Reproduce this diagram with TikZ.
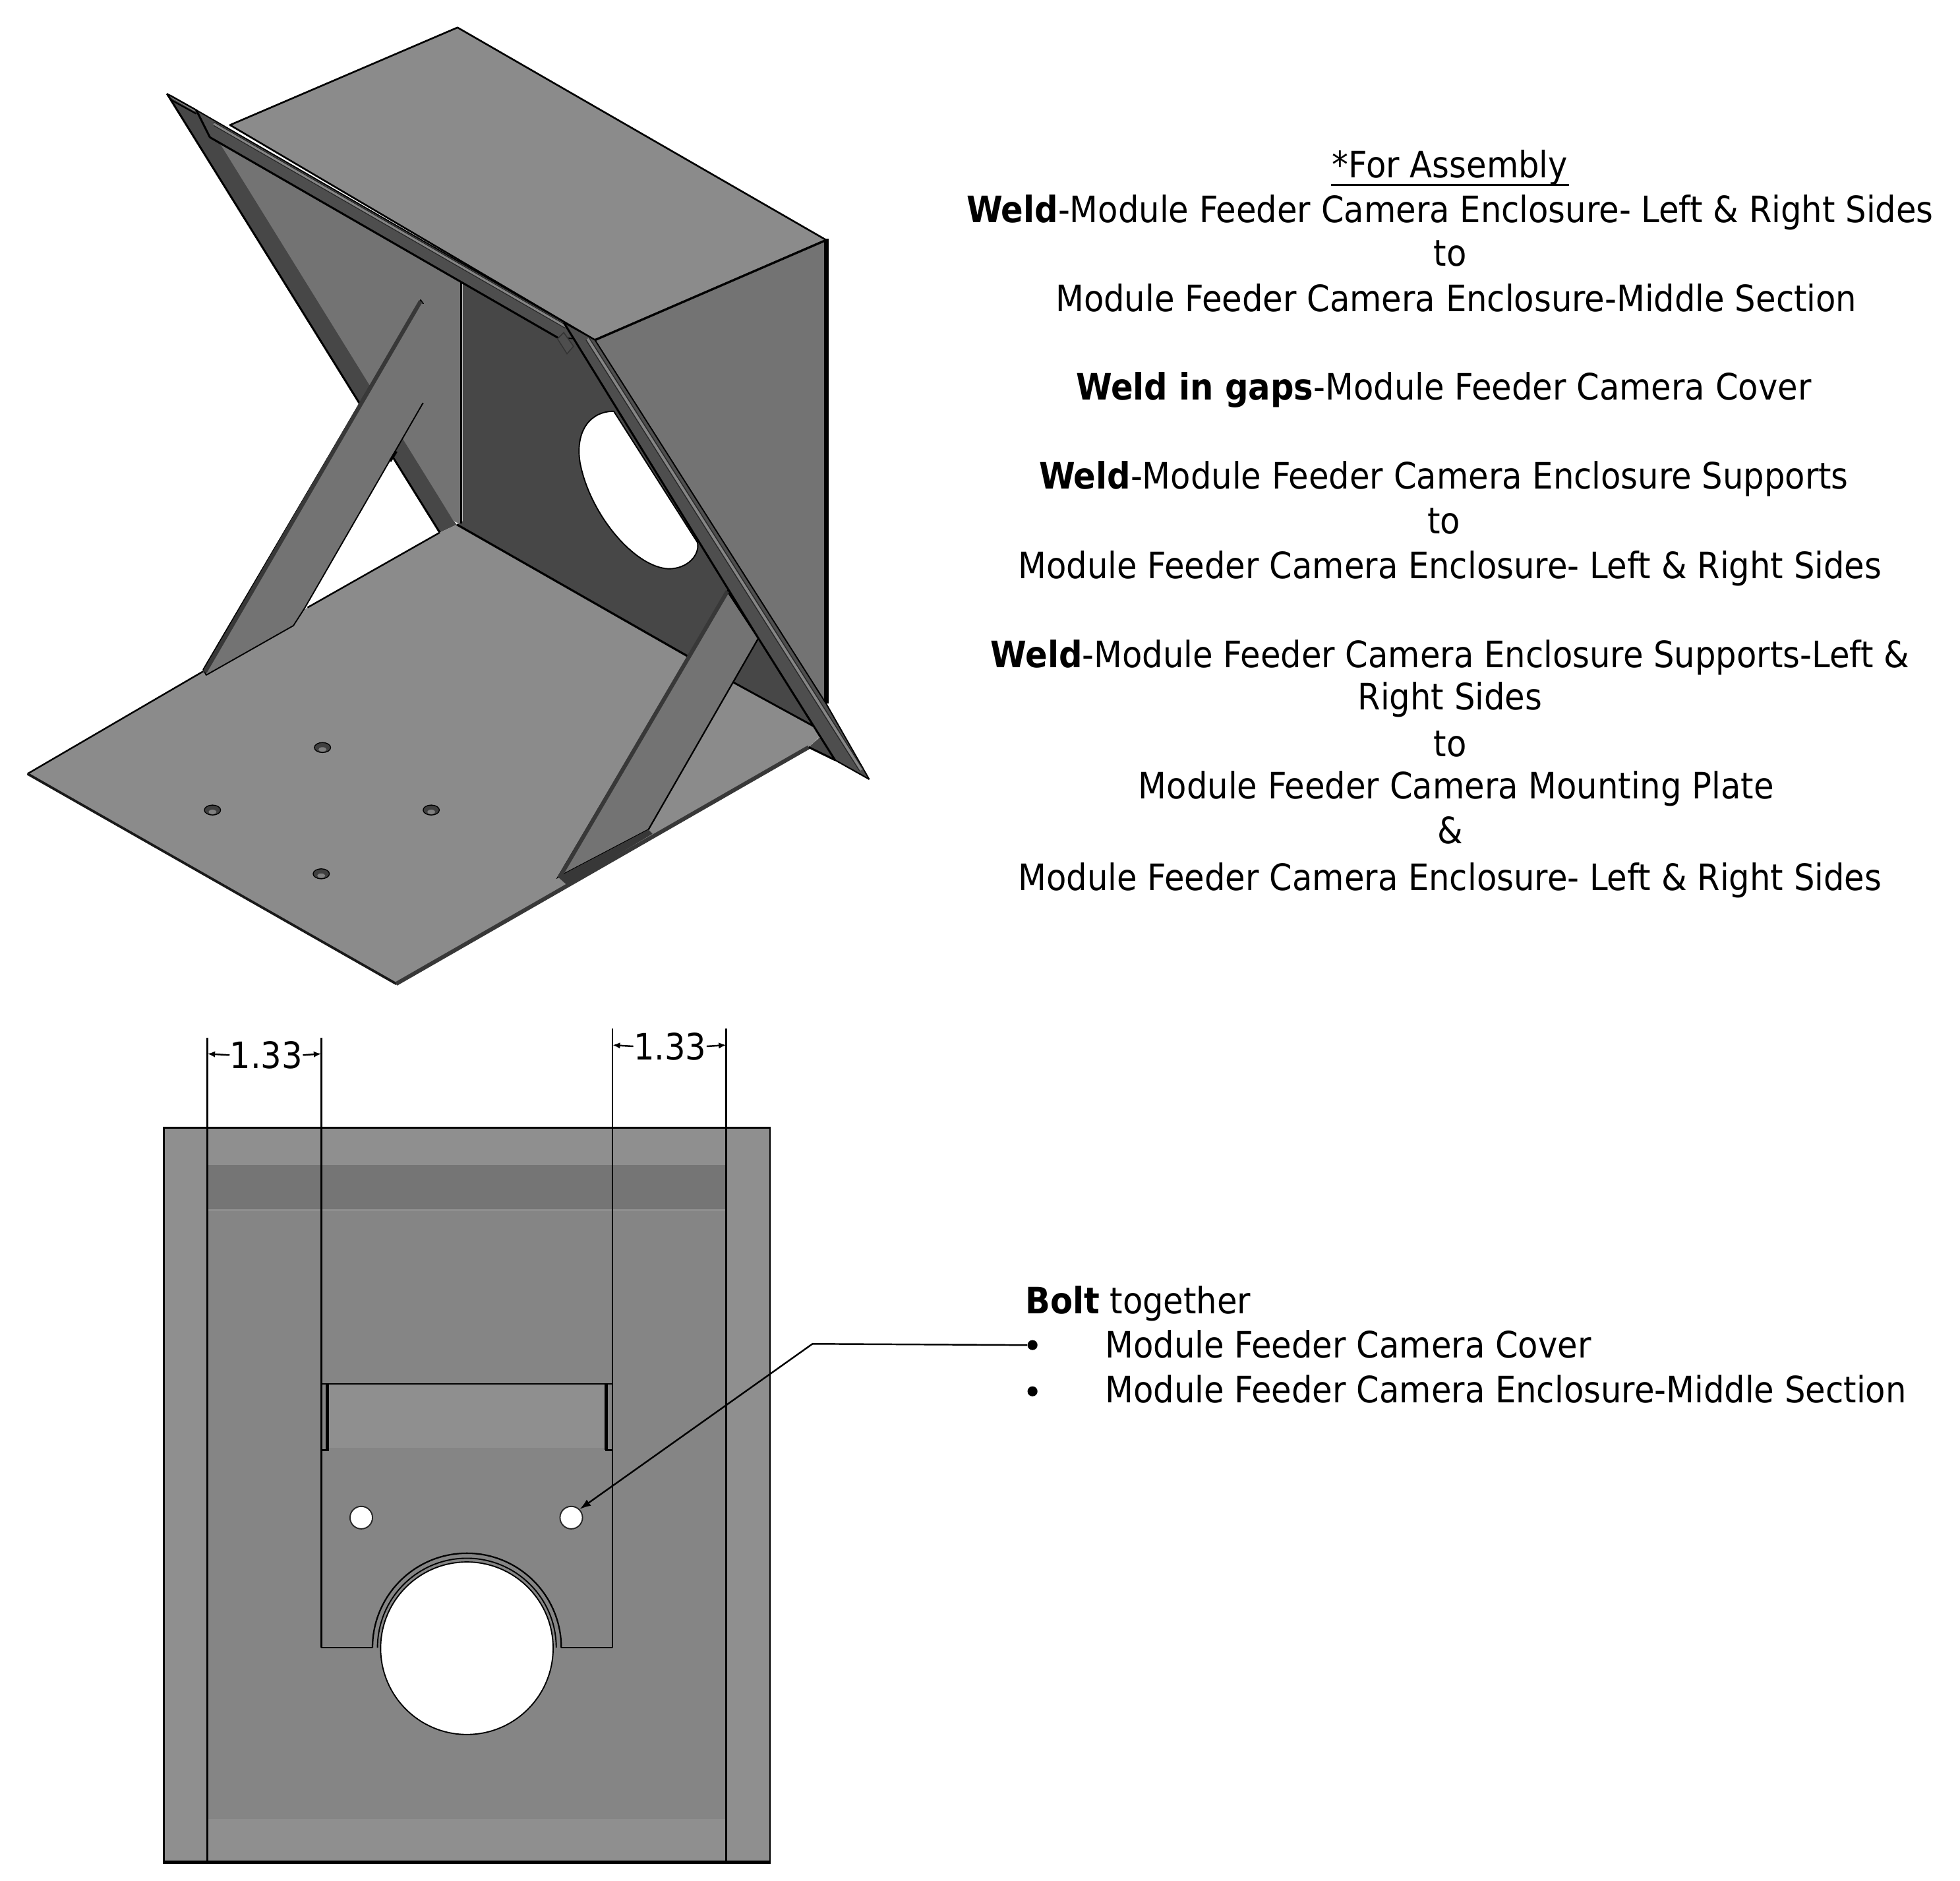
\documentclass[tikz,border=0pt]{standalone}
\usepackage{fontspec}
\setmainfont{DejaVu Sans Condensed}
\usetikzlibrary{arrows.meta}
\definecolor{lite}{HTML}{8B8B8B}
\definecolor{mid}{HTML}{737373}
\definecolor{drk}{HTML}{474747}
\definecolor{strip}{HTML}{4E4E4E}
\definecolor{face}{HTML}{858585}
\definecolor{band}{HTML}{757575}
\definecolor{rim}{HTML}{8F8F8F}
\tikzset{
  x=1pt,y=-1pt,
  edge/.style={draw=black,line width=1.6pt,line join=round},
  hatchedge/.style={draw=black!78,line width=3.2pt,line cap=butt},
  lab/.style={font=\fontsize{29.1}{32}\selectfont,anchor=base,inner sep=0pt,text=black},
  labl/.style={lab,anchor=base west},
  dim/.style={draw=black,line width=1.5pt},
  tick/.style={draw=black,line width=1.3pt,{Latex[length=6pt,width=5pt]}-},
  bolt/.style={fill=black!75,draw=black,line width=0.7pt},
  dbl/.style={draw=black!85,line width=0.6pt},
  gap/.style={draw=black!48,line width=2pt},
}
\begin{document}
\begin{tikzpicture}
\useasboundingbox (0,0) rectangle (1568,1504.7);
% --- isometric view ---
\fill[lite,draw=black,line width=1.4pt,line join=round] (366,22)--(661,192)--(476,272)--(184,100)--cycle;
\fill[mid] (476,272)--(661,192)--(661,565)--(650,585)--cycle;
\draw[black,line width=3.4pt] (661,191)--(661,563);
% left inner panel
\fill[mid] (167.9,109.8)--(369,225)--(369,419.5)--(363,417)--cycle;
\fill[drk] (133.6,75)--(157,88)--(167.9,109.8)--(175.6,114.3)--(363,417)--(365.5,419.6)--(351.8,426)--cycle;
\draw[edge] (133.6,75)--(351.8,426);
% back wall
\fill[drk] (370,226)--(451,258)--(607,511)--(668,608)--(651,581)--(587,546)--(365.5,419.6)--(370,417)--cycle;
% hole
\fill[white,draw=black,line width=1pt] (491,329) .. controls (472,329) and (460,345) .. (464,370) .. controls (472,412) and (508,454) .. (535,455) .. controls (550,455) and (560,444) .. (558,434) -- cycle;
\draw[line width=1.7pt] (369,225)--(369,418.5);
% floor
\fill[lite] (22,619)--(162.6,537)--(246,486)--(351.8,426)--(365.5,419.6)--(587,546)--(651,581)--(656,589)--(647,597.7)--(317,788)--cycle;
\draw[line width=1.3pt] (22,619)--(162.6,537) (246,486)--(351.8,426);
\draw[line width=1.7pt] (365.5,419.6)--(587,546);
\draw[black!90,line width=2pt] (22,619)--(317,787);
\draw[hatchedge] (317,787)--(647,597.7);
\fill[drk] (607,511)--(651,581)--(587,546)--cycle;
\draw[line width=1.5pt] (587,546)--(651,581);
% bolt holes
\foreach \a/\b in {258/598,170/648,345/648,257/699}{
  \fill[bolt] (\a,\b) ellipse[x radius=6.5,y radius=4];
  \fill[black!50] (\a,\b+1.5) ellipse[x radius=3.2,y radius=1.8];
}
% left support
\fill[mid,draw=black,line width=1pt,line join=round] (336.5,240)--(338.6,243)--(338.6,322)--(244,486)--(234.7,500.5)--(165,540)--(162.6,535.5)--cycle;
\draw[black!55,line width=1pt,fill=none] (338.6,243)--(338.6,322);
\draw[hatchedge] (336.5,241)--(164,537.5);
\draw[line width=2.2pt] (312,369)--(317,361);
% right support
\fill[mid,draw=black,line width=1.2pt] (581.9,473)--(606.6,510.7)--(518.7,663.7)--(446.5,701.6)--cycle;
\draw[hatchedge] (581.9,473)--(447.5,702);
\fill[black!78] (446.5,701.6)--(518.7,663.7)--(522,667)--(453.6,708)--cycle;
% upper flange strip
\fill[strip,draw=black,line width=1pt,line join=round] (157,88)--(476,272)--(446,270)--(167.9,109.8)--cycle;
\draw[gap] (171,99)--(452,261);
\draw[dbl] (171,97.6)--(452,259.6);
\draw[dbl] (171,100.4)--(452,262.4);
\draw[line width=1.6pt] (167.9,109.8)--(446,270);
\draw[line width=1.6pt] (157,88)--(167.9,109.8);
\fill[strip,draw=black!80,line width=0.8pt] (446,271)--(453.6,283)--(458.8,277)--(451,266)--cycle;
\draw[gap] (136,76.5)--(156,88);
\draw[black,line width=1.2pt] (133.6,75)--(157,88) (133.6,75)--(137,80)--(157,91);
% right flange strip
\fill[strip] (451,258)--(476,272)--(661,563)--(695.4,623.4)--(668,608)--cycle;
\fill[drk] (647,597.7)--(656.6,589)--(668,608)--cycle;
\draw[line width=1.6pt] (647,597.7)--(668,608);
\draw[line width=1.6pt] (451,258)--(607,511)--(668,608);
\draw[line width=1.1pt] (668,608)--(695.4,623.4);
\draw[line width=1pt] (451,258)--(476,272)--(661,563)--(695.4,623.4);
\draw[gap] (470,271)--(689,616);
\draw[dbl] (471.3,270.2)--(690.3,615.2);
\draw[dbl] (468.7,271.8)--(687.7,616.8);
\draw[black,line width=1.8pt] (476,272)--(661,192);
% --- front view ---
\fill[rim] (131,902) rectangle (616,1490);
\fill[face] (166,967) rectangle (581,1455);
\fill[band] (166,932) rectangle (581,967);
\fill[rim] (166,967) rectangle (581,969);
\draw[black,line width=1.4pt] (131,1490)--(131,902)--(616,902)--(616,1490);
\draw[black,line width=2.8pt] (130.3,1489.5)--(616.7,1489.5);
% cover
\fill[rim] (263,1107) rectangle (484,1158);
\draw[line width=1.5pt] (262,1107)--(485,1107);
\draw[line width=2.6pt] (262,1107)--(262,1160);
\draw[line width=2.6pt] (485,1107)--(485,1160);
\draw[line width=1.5pt] (257,1160)--(263,1160) (490,1160)--(484,1160);
\draw[line width=1.5pt] (257,1107)--(262,1107) (490,1107)--(485,1107);
% extension / dimension lines
\coordinate (dl1a) at (166,830); \coordinate (dl1b) at (166,1489);
\coordinate (dl2a) at (257,830); \coordinate (dl2b) at (257,1318);
\coordinate (dl3a) at (490,823); \coordinate (dl3b) at (490,1318);
\coordinate (dl4a) at (581,823); \coordinate (dl4b) at (581,1489);
\draw[dim] (dl1a)--(dl1b);
\draw[dim] (dl2a)--(dl2b);
\draw[dim] (dl3a)--(dl3b);
\draw[dim] (dl4a)--(dl4b);
\draw[line width=1.5pt] (dl2b)--(298,1318) (449,1318)--(dl3b);
% big hole
\draw[line width=1.2pt] (298,1318) arc[start angle=180,end angle=360,radius=75.5];
\draw[line width=1pt] (302,1318) arc[start angle=180,end angle=360,radius=71.5];
\node[circle,fill=white,draw=black,line width=1pt,minimum size=138pt,inner sep=0pt] (bighole) at (373.5,1318.5) {};
\node[circle,fill=white,draw=black!85,line width=1pt,minimum size=18pt,inner sep=0pt] (b1) at (289,1214) {};
\node[circle,fill=white,draw=black!85,line width=1pt,minimum size=18pt,inner sep=0pt] (b2) at (457,1214) {};
% dimensions
\node[lab,anchor=center] (d1) at (213,844) {1.33};
\node[lab,anchor=center] (d2) at (536,837) {1.33};
\draw[tick] (166,843)--(d1.west);
\draw[tick] (257,843)--(d1.east);
\draw[tick] (490,836)--(d2.west);
\draw[tick] (581,836)--(d2.east);
% --- text ---
\node[lab] (t1) at (1160,142) {*For Assembly};
\draw[line width=1.3pt] (1065,148)--(1255,148);
\node[lab] (t2) at (1160,178) {\textbf{Weld}-Module Feeder Camera Enclosure- Left \& Right Sides};
\node[lab] (t3) at (1160,213) {to};
\node[lab] (t4) at (1165,249) {Module Feeder Camera Enclosure-Middle Section};
\node[lab] (t5) at (1155,320) {\textbf{Weld in gaps}-Module Feeder Camera Cover};
\node[lab] (t6) at (1155,391) {\textbf{Weld}-Module Feeder Camera Enclosure Supports};
\node[lab] (t7) at (1155,427) {to};
\node[lab] (t8) at (1160,463) {Module Feeder Camera Enclosure- Left \& Right Sides};
\node[lab] (t9) at (1160,534) {\textbf{Weld}-Module Feeder Camera Enclosure Supports-Left \&};
\node[lab] (t10) at (1160,568) {Right Sides};
\node[lab] (t11) at (1160,605) {to};
\node[lab] (t12) at (1165,639) {Module Feeder Camera Mounting Plate};
\node[lab] (t13) at (1160,675) {\&};
\node[lab] (t14) at (1160,712) {Module Feeder Camera Enclosure- Left \& Right Sides};
\node[labl] (b0) at (820,1051) {\textbf{Bolt} together};
\node[circle,fill=black,minimum size=8pt,inner sep=0pt] (bu1) at (826,1076) {};
\node[circle,fill=black,minimum size=8pt,inner sep=0pt] (bu2) at (826,1113) {};
\node[labl] (b3) at (884,1086) {Module Feeder Camera Cover};
\node[labl] (b4) at (884,1122) {Module Feeder Camera Enclosure-Middle Section};
% leader
\coordinate (lk) at (650,1075);
\draw[line width=1.3pt,{Latex[length=9pt,width=6pt]}-] (b2.north east)--(lk)--(bu1.west);
\end{tikzpicture}
\end{document}
